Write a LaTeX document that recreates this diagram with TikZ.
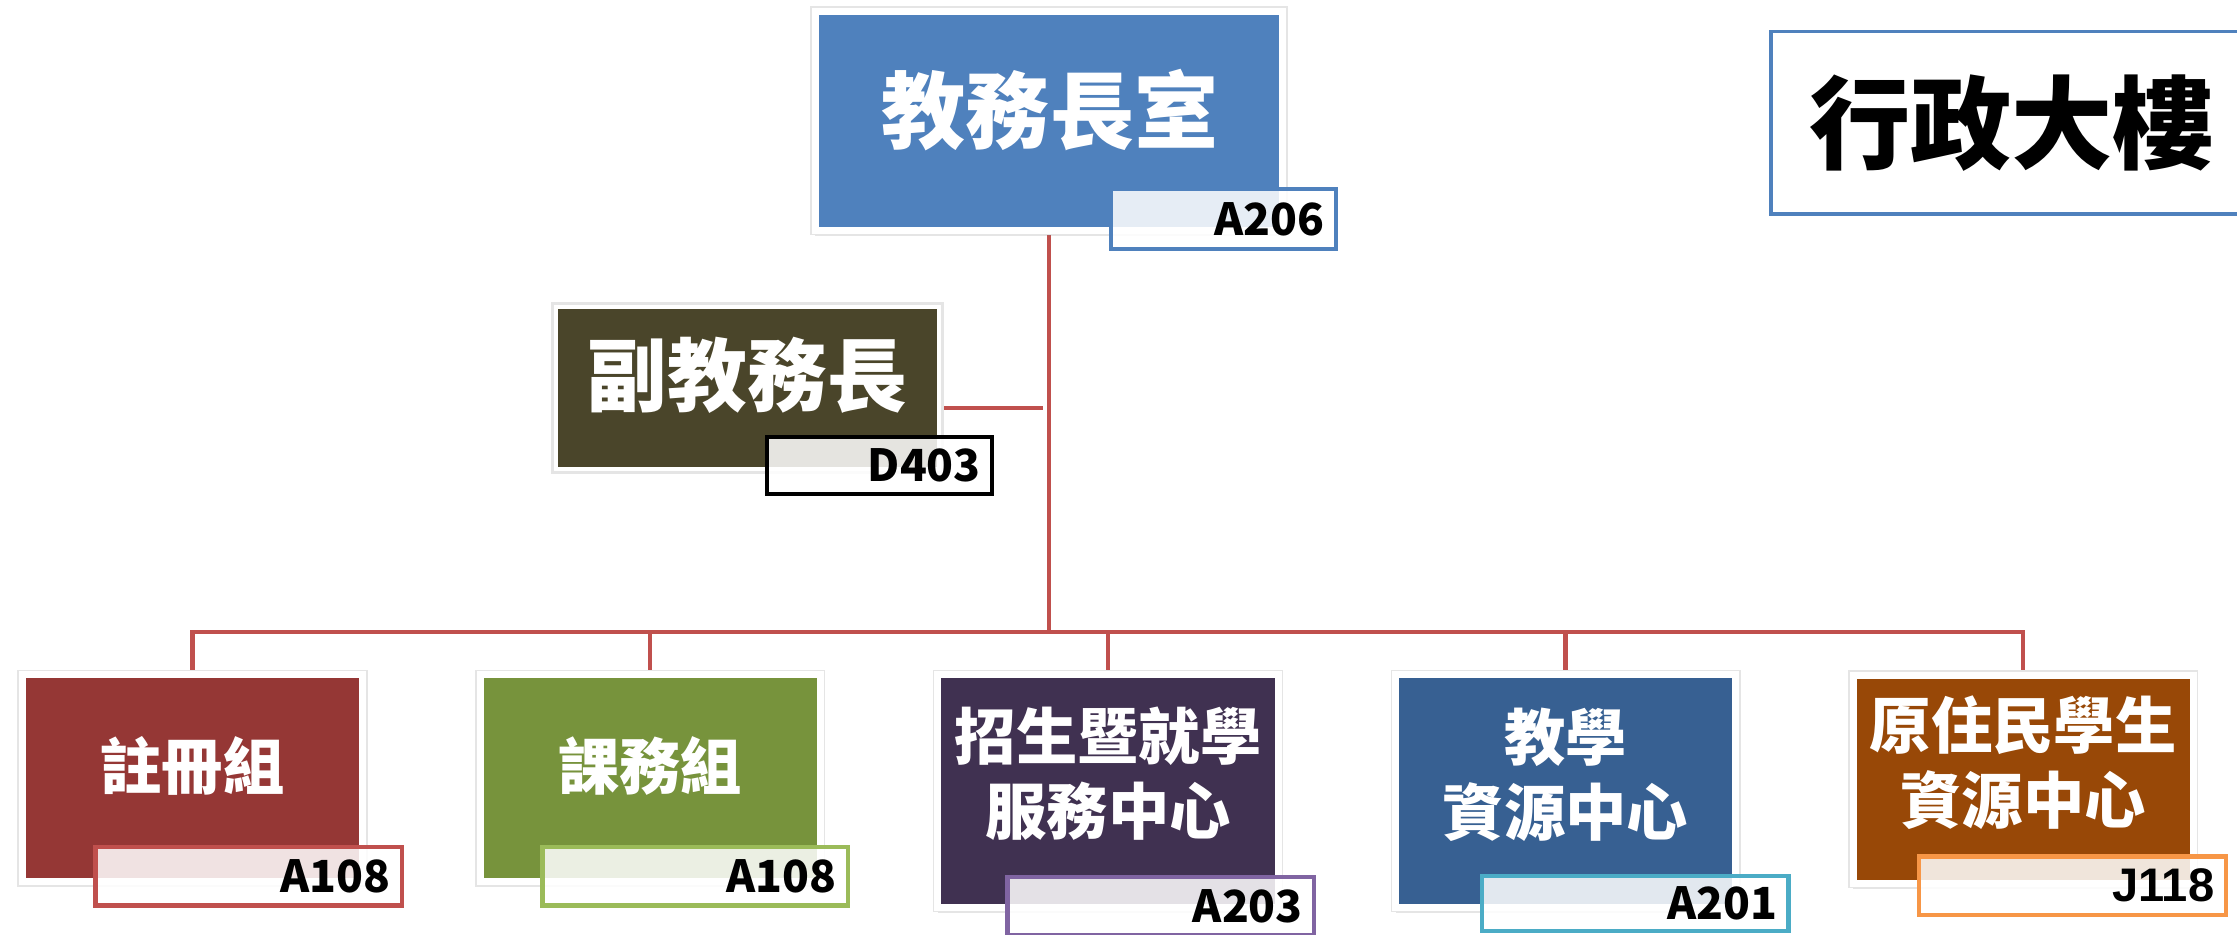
\documentclass[tikz,border=0pt]{standalone}
\usepackage{fontspec}
\setmainfont{Noto Sans CJK TC}
\newfontfamily\lat{Liberation Sans}
\usetikzlibrary{shadows,backgrounds}
\definecolor{conn}{HTML}{C0504D}
\definecolor{cTop}{HTML}{4F81BD}
\definecolor{cDep}{HTML}{4A452A}
\definecolor{cReg}{HTML}{953735}
\definecolor{cCur}{HTML}{77933C}
\definecolor{cAdm}{HTML}{403151}
\definecolor{cTea}{HTML}{376092}
\definecolor{cAbo}{HTML}{984807}
\definecolor{bReg}{HTML}{C0504D}
\definecolor{bCur}{HTML}{9BBB59}
\definecolor{bAdm}{HTML}{8064A2}
\definecolor{bTea}{HTML}{4BACC6}
\definecolor{bAbo}{HTML}{F79646}
\begin{document}
\begin{tikzpicture}[x=1pt,y=-1pt,
  unit/.style={rectangle, draw=white, line width=5pt, fill=#1, inner sep=0pt,
    drop shadow={opacity=0.2, shadow xshift=0pt, shadow yshift=-4pt},
    preaction={draw=black!10, line width=7pt}},
  tag/.style={rectangle, draw=#1, line width=3pt, fill=white, fill opacity=0.86,
    text opacity=1, inner xsep=8pt, inner ysep=0pt, align=right, text=black,
    font=\bfseries\fontsize{31}{34}\selectfont},
  utext/.style={text=white, align=center, inner sep=0pt,
    font=\bfseries\fontsize{43}{52.5}\selectfont},
  link/.style={draw=conn, line width=3pt}
]
\useasboundingbox (0,0) rectangle (1568,655);
\clip (0,0) rectangle (1568,655);

% top
\node[unit=cTop, minimum width=327.5pt, minimum height=153.5pt] (dean) at (735.25,84.75) {};
\node[utext, font=\bfseries\fontsize{59}{70}\selectfont] (deant) at (736,77) {教務長室};
\node[tag=cTop, text width=142pt, minimum height=42pt] (deantag) at (857.5,153.5) {A206};

% deputy
\node[unit=cDep, line width=3pt, minimum width=268.5pt, minimum height=113.4pt] (dep) at (523.75,271.8) {};
\node[utext, font=\bfseries\fontsize{56}{66}\selectfont] (dept) at (524,263) {副教務長};
\node[tag=black, text width=142pt, minimum height=40pt] (deptag) at (616.5,326.5) {D403};

% bottom row
\node[unit=cReg, minimum width=238.5pt, minimum height=145pt] (reg) at (135,545.4) {};
\node[utext] (regt) at (135,537) {註冊組};
\node[tag=bReg, text width=199pt, minimum height=41pt] (regtag) at (174.4,614.25) {A108};

\node[unit=cCur, minimum width=238.5pt, minimum height=145pt] (cur) at (455.8,545.4) {};
\node[utext] (curt) at (455.8,537) {課務組};
\node[tag=bCur, text width=198pt, minimum height=41pt] (curtag) at (487.2,614.25) {A108};

\node[unit=cAdm, minimum width=238.5pt, minimum height=163pt] (adm) at (776.6,554.5) {};
\node[utext] (admt) at (776.8,542) {招生暨就學\\服務中心};
\node[tag=bAdm, text width=199pt, minimum height=41pt] (admtag) at (813.7,635.2) {A203};

\node[unit=cTea, minimum width=238.5pt, minimum height=163pt] (tea) at (1097.4,554.5) {};
\node[utext] (teat) at (1097.4,543) {教學\\資源中心};
\node[tag=bTea, text width=199pt, minimum height=39pt] (teatag) at (1146.2,633.3) {A201};

\node[unit=cAbo, minimum width=238.5pt, minimum height=146pt] (abo) at (1418.2,546.2) {};
\node[utext] (abot) at (1418.2,534.4) {原住民學生\\資源中心};
\node[tag=bAbo, text width=199pt, minimum height=41pt,
  font=\lat\bfseries\fontsize{33}{36}\selectfont] (abotag) at (1452.6,620.8) {J118};

% building label
\node[draw=cTop, line width=2.5pt, minimum width=360pt, minimum height=128pt, inner sep=0pt] (bldg) at (1421.25,86.2) {};
\node[font=\bfseries\fontsize{71}{80}\selectfont, inner sep=0pt] (bldgt) at (1410,86.4) {行政大樓};

% connectors
\begin{scope}[on background layer]
  \fill[white] (0,0) rectangle (1568,655);
  \coordinate (bus) at (735.5,443);
  \coordinate (depj) at (731,286);
  \draw[link] (dean.south) -- (dean.south |- bus);
  \draw[link] (bus) -| (reg.north);
  \draw[link] (bus) -| (cur.north);
  \draw[link] (bus) -| (adm.north);
  \draw[link] (bus) -| (tea.north);
  \draw[link] (bus) -| (abo.north);
  \draw[link] (depj) -- (depj -| dep.east);
\end{scope}
\end{tikzpicture}
\end{document}
